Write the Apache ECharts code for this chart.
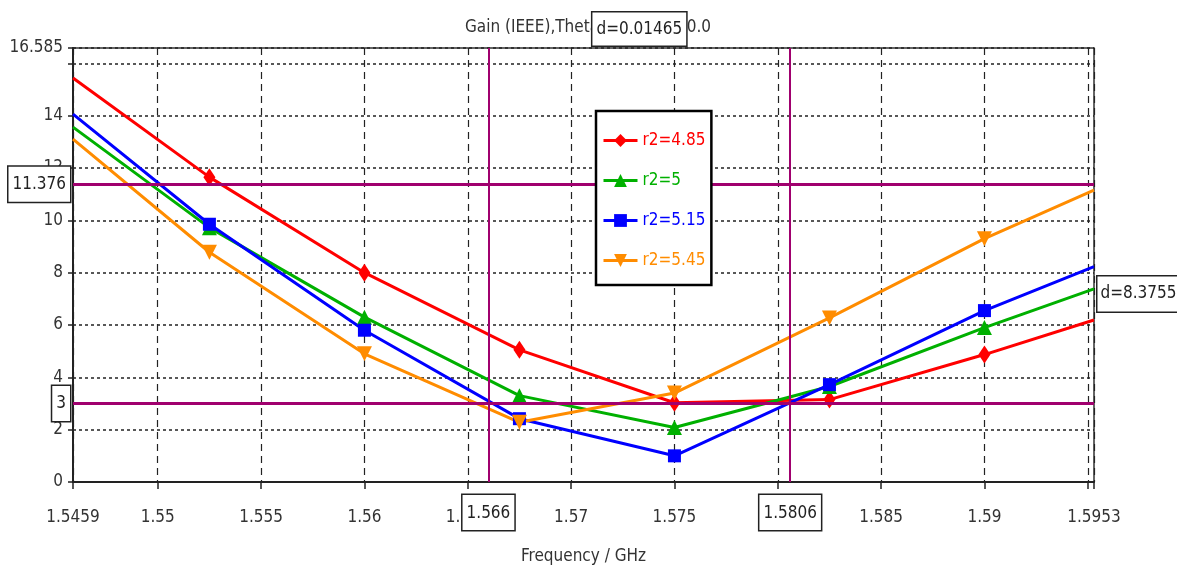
<!DOCTYPE html>
<html>
<head>
<meta charset="utf-8">
<script src="https://cdn.jsdelivr.net/npm/echarts@6/dist/echarts.min.js"></script>
<style>
html,body{margin:0;padding:0;background:#fff;}
#c{width:1177px;height:573px;}
</style>
</head>
<body>
<div id="c"></div>
<script>
// ---- data ----
var freq = [1.5459, 1.5525, 1.56, 1.5675, 1.575, 1.5825, 1.59, 1.5953];
var seriesNames = ['r2=4.85', 'r2=5', 'r2=5.15', 'r2=5.45'];
var gain485 = [15.44, 11.65, 8.0, 5.05, 3.03, 3.15, 4.87, 6.19];
var gain500 = [13.56, 9.72, 6.3, 3.3, 2.08, 3.65, 5.9, 7.38];
var gain515 = [14.06, 9.85, 5.8, 2.42, 1.0, 3.72, 6.55, 8.23];
var gain545 = [13.1, 8.78, 4.9, 2.28, 3.4, 6.27, 9.3, 11.15];
var xTickLabels = [1.5459, 1.55, 1.555, 1.56, 1.565, 1.57, 1.575, 1.58, 1.585, 1.59, 1.5953];
var xTicks = [1.5459, 1.55, 1.555, 1.56, 1.565, 1.57, 1.575, 1.58, 1.585, 1.59, 1.595, 1.5953];
var yTickLabels = [0, 2, 4, 6, 8, 10, 12, 14, 16.585];
var yTicks = [0, 2, 4, 6, 8, 10, 12, 14, 16, 16.585];
var markerX = [1.566, 1.5806];
var markerY = [11.376, 3];
var markerXLabels = ['1.566', '1.5806'];
var markerYLabels = ['11.376', '3'];
var deltaXLabel = 'd=0.01465';
var deltaYLabel = 'd=8.3755';
var titleText = 'Gain (IEEE),Theta=90.0,Phi=0.0';
var xName = 'Frequency / GHz';

// ---- styles ----
var FONT = '"DejaVu Sans Condensed","Liberation Sans Narrow","Liberation Sans",sans-serif';
var FS = 17;
var colors = ['#ff0000', '#00b000', '#0000ff', '#ff8c00'];
var symbols = ['diamond', 'triangle', 'rect', 'triangle'];
var symbolSizes = [[12, 18], 15, 13, 15];
var symbolRotates = [0, 0, 0, 180];
var MAG = '#a0006e';
var boxLabel = {
  show: true, color: '#222', fontFamily: FONT, fontSize: FS,
  backgroundColor: '#fff', borderColor: '#222', borderWidth: 1.5,
  padding: [10, 4, 8, 4]
};

function mkData(ys) {
  var last = ys.length - 1;
  return ys.map(function (y, i) {
    var item = { value: [freq[i], y] };
    if (i === 0 || i === last) { item.symbol = 'none'; }
    return item;
  });
}

var allGains = [gain485, gain500, gain515, gain545];
var series = allGains.map(function (g, k) {
  return {
    name: seriesNames[k], type: 'line', data: mkData(g),
    symbol: symbols[k], symbolSize: symbolSizes[k], symbolRotate: symbolRotates[k],
    showAllSymbol: true,
    lineStyle: { color: colors[k], width: 3 },
    itemStyle: { color: colors[k] },
    emphasis: { disabled: true }, animation: false, z: 3
  };
});

var fmt = function (v) { return String(+(+v).toFixed(4)); };

var mlData = [];
markerY.forEach(function (v, i) {
  mlData.push({ yAxis: v, lineStyle: { color: MAG, width: 3, type: 'solid' },
    label: Object.assign({}, boxLabel, { position: 'start', distance: 3, formatter: markerYLabels[i] }) });
});
markerX.forEach(function (v, i) {
  mlData.push({ xAxis: v, lineStyle: { color: MAG, width: 2, type: 'solid' },
    label: Object.assign({}, boxLabel, { position: 'start', distance: 13, formatter: markerXLabels[i] }) });
});

series.push({
  name: 'markers', type: 'line', data: [], z: 10, silent: true, animation: false,
  markLine: { symbol: ['none', 'none'], precision: 6, silent: true, animation: false, data: mlData },
  markPoint: {
    silent: true, animation: false, symbol: 'circle', symbolSize: 1,
    itemStyle: { color: 'rgba(0,0,0,0)' },
    data: [
      { coord: [(markerX[0] + markerX[1]) / 2, 16.585],
        label: Object.assign({}, boxLabel, { position: 'top', distance: 2, padding: [9, 4, 7, 4], formatter: deltaXLabel }) },
      { coord: [1.5953, (markerY[0] + markerY[1]) / 2],
        label: Object.assign({}, boxLabel, { position: 'right', distance: 3, padding: [10, 3, 8, 3], formatter: deltaYLabel }) }
    ]
  }
});

var chart = echarts.init(document.getElementById('c'), null, { renderer: 'canvas' });
chart.setOption({
  animation: false,
  backgroundColor: '#fff',
  title: {
    text: titleText, left: 583, top: 14, textAlign: 'center', z: 0,
    textStyle: { fontFamily: FONT, fontSize: FS, fontWeight: 'normal', color: '#333' }
  },
  grid: { left: 73, right: 83, top: 48, bottom: 91, show: true, borderColor: '#333', borderWidth: 1.5, backgroundColor: 'transparent' },
  legend: {
    data: seriesNames.map(function (n, k) { return { name: n, textStyle: { color: colors[k] } }; }),
    orient: 'vertical', left: 596, top: 111, z: 20,
    itemWidth: 34, itemHeight: 16, itemGap: 23,
    padding: [21, 6, 16, 6],
    backgroundColor: '#fff', borderColor: '#000', borderWidth: 2.5,
    lineStyle: { width: 3 },
    textStyle: { fontFamily: FONT, fontSize: 17 }
  },
  xAxis: {
    type: 'value', min: 1.5459, max: 1.5953,
    name: xName, nameLocation: 'middle', nameGap: 66,
    nameTextStyle: { fontFamily: FONT, fontSize: FS, color: '#333' },
    axisLine: { show: true, lineStyle: { color: '#222', width: 2 } },
    axisTick: { show: true, customValues: xTicks, length: 7, lineStyle: { color: '#222', width: 1.5 } },
    axisLabel: { customValues: xTickLabels, formatter: fmt, margin: 27, fontFamily: FONT, fontSize: FS, color: '#333' },
    splitLine: { show: true, lineStyle: { color: '#222', width: 1.2, type: [7, 5] } }
  },
  yAxis: {
    type: 'value', min: 0, max: 16.585,
    axisLine: { show: true, lineStyle: { color: '#222', width: 2 } },
    axisTick: { show: true, customValues: yTicks, length: 5, lineStyle: { color: '#222', width: 1.5 } },
    axisLabel: { customValues: yTickLabels, formatter: fmt, margin: 10, fontFamily: FONT, fontSize: FS, color: '#333' },
    splitLine: { show: true, lineStyle: { color: '#222', width: 1.5, type: [3, 3] } }
  },
  series: series
});
</script>
</body>
</html>
